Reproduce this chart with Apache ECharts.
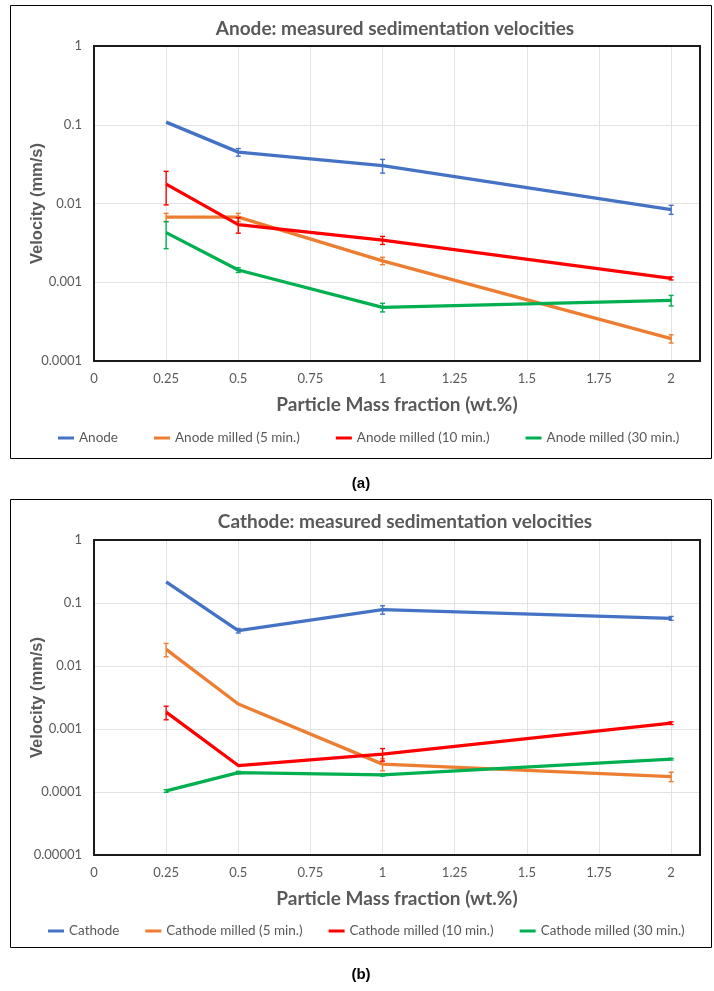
<!DOCTYPE html>
<html><head><meta charset="utf-8">
<script src="https://cdn.jsdelivr.net/npm/echarts@6/dist/echarts.min.js"></script>
<style>html,body{margin:0;padding:0;background:#fff}#c{width:714px;height:991px}</style>
</head><body><div id="c"></div>
<script>
// ---- data ----
const xValues = [0.25, 0.5, 1, 2];
const xTickLabels = ['0','0.25','0.5','0.75','1','1.25','1.5','1.75','2'];
const yTickLabelsA = ['0.0001','0.001','0.01','0.1','1'];
const yTickLabelsB = ['0.00001','0.0001','0.001','0.01','0.1','1'];

const anodeNames = ['Anode','Anode milled (5 min.)','Anode milled (10 min.)','Anode milled (30 min.)'];
const cathodeNames = ['Cathode','Cathode milled (5 min.)','Cathode milled (10 min.)','Cathode milled (30 min.)'];
const seriesColors = ['#4472C4','#ED7D31','#FF0000','#00B050'];

const anode       = [0.108, 0.0449, 0.0303, 0.00838];
const anodeErr    = [0, 0.005, 0.006, 0.0011];
const anode5      = [0.0067, 0.0067, 0.00187, 0.000192];
const anode5Err   = [0.0008, 0.0008, 0.0002, 0.000023];
const anode10     = [0.0176, 0.0054, 0.00342, 0.00112];
const anode10Err  = [0.008, 0.0012, 0.0004, 0.00005];
const anode30     = [0.00427, 0.00143, 0.00048, 0.00059];
const anode30Err  = [0.0016, 0.0001, 0.00006, 0.00009];

const cathode      = [0.216, 0.0364, 0.0785, 0.0571];
const cathodeErr   = [0, 0.003, 0.012, 0.004];
const cathode5     = [0.0184, 0.00249, 0.000277, 0.000176];
const cathode5Err  = [0.0044, 0, 0.00006, 0.00003];
const cathode10    = [0.00185, 0.000263, 0.000399, 0.00124];
const cathode10Err = [0.00045, 0, 0.00009, 0.00006];
const cathode30    = [0.000104, 0.000203, 0.000187, 0.000332];
const cathode30Err = [0.000005, 0.00001, 0.000008, 0.00001];

// ---- build ----
const CAL = 'Lato, "Liberation Sans", sans-serif';
const ARI = '"Liberation Sans", Arial, sans-serif';
const GREY = '#595959';

function lineSeries(name, vals, color, gi) {
  return {type:'line', name, xAxisIndex:gi, yAxisIndex:gi,
    data: xValues.map((x,i)=>[x, vals[i]]),
    showSymbol:false, symbol:'none', lineStyle:{width:3.3,color:color}, itemStyle:{color:color}, z:2};
}
function errSeries(vals, errs, color, gi) {
  return {type:'custom', xAxisIndex:gi, yAxisIndex:gi, silent:true, z:3,
    data: xValues.map((x,i)=>[x, vals[i], errs[i]]),
    encode:{x:0, y:1},
    renderItem:function(p, api){
      const x = api.value(0), y = api.value(1), e = api.value(2);
      if (!e) return null;
      const t = api.coord([x, y + e]), b = api.coord([x, y - e]);
      const hw = 2.5, st = {stroke:color, lineWidth:1.4};
      return {type:'group', children:[
        {type:'line', shape:{x1:t[0],y1:t[1],x2:b[0],y2:b[1]}, style:st},
        {type:'line', shape:{x1:t[0]-hw,y1:t[1],x2:t[0]+hw,y2:t[1]}, style:st},
        {type:'line', shape:{x1:b[0]-hw,y1:b[1],x2:b[0]+hw,y2:b[1]}, style:st}
      ]};
    }};
}
function fmtY(v){ return String(Number(Number(v).toPrecision(3))); }
function fmtX(v){ return (Math.abs(v*4 - Math.round(v*4)) < 1e-6) ? String(Number(v.toFixed(2))) : ''; }

function xAxis(gi){
  return {type:'value', gridIndex:gi, min:0, max:2.1, interval:0.25,
    name:'Particle Mass fraction (wt.%)', nameLocation:'middle', nameGap:34, nameMoveOverlap:false,
    nameTextStyle:{fontFamily:CAL, fontWeight:'bold', fontSize:19, color:GREY},
    axisLine:{show:false}, axisTick:{show:false},
    axisLabel:{formatter:fmtX, color:GREY, fontFamily:CAL, fontSize:13, margin:11},
    splitLine:{show:true, lineStyle:{color:'#e3e3e3', width:1}}};
}
function yAxis(gi, min){
  return {type:'log', logBase:10, gridIndex:gi, min:min, max:1,
    name:'Velocity (mm/s)', nameLocation:'middle', nameGap:48, nameMoveOverlap:false,
    nameTextStyle:{fontFamily:ARI, fontWeight:'bold', fontSize:16.5, color:GREY},
    axisLine:{show:false}, axisTick:{show:false},
    axisLabel:{formatter:fmtY, color:GREY, fontFamily:CAL, fontSize:13, margin:12},
    minorTick:{show:false}, minorSplitLine:{show:false},
    splitLine:{show:true, lineStyle:{color:'#e3e3e3', width:1}}};
}

const series = [];
const aVals = [anode, anode5, anode10, anode30];
const aErrs = [anodeErr, anode5Err, anode10Err, anode30Err];
const cVals = [cathode, cathode5, cathode10, cathode30];
const cErrs = [cathodeErr, cathode5Err, cathode10Err, cathode30Err];
for (let i=0;i<4;i++){ series.push(lineSeries(anodeNames[i], aVals[i], seriesColors[i], 0)); }
for (let i=0;i<4;i++){ series.push(errSeries(aVals[i], aErrs[i], seriesColors[i], 0)); }
for (let i=0;i<4;i++){ series.push(lineSeries(cathodeNames[i], cVals[i], seriesColors[i], 1)); }
for (let i=0;i<4;i++){ series.push(errSeries(cVals[i], cErrs[i], seriesColors[i], 1)); }

function legend(names, left, top, gap){
  return {data:names, left:left, top:top, itemGap:gap, itemWidth:16, itemHeight:3, icon:'rect',
    textStyle:{color:GREY, fontFamily:CAL, fontSize:13.5}, selectedMode:false};
}
function txt(s, x, y, font, size, color){
  return {type:'text', x:x, y:y, style:{text:s, font:'bold '+size+'px '+font, fill:color, align:'center', verticalAlign:'middle'}};
}
function border(x, y, w, h, lw, col){
  return {type:'rect', z:100, shape:{x:x, y:y, width:w, height:h}, style:{fill:'none', stroke:col, lineWidth:lw}, silent:true};
}

const option = {
  animation:false,
  backgroundColor:'#fff',
  grid:[
    {left:94, top:46, width:606, height:315, containLabel:false},
    {left:94, top:540, width:606, height:315, containLabel:false}
  ],
  xAxis:[xAxis(0), xAxis(1)],
  yAxis:[yAxis(0, 0.0001), yAxis(1, 0.00001)],
  legend:[legend(anodeNames, 53, 426, 36), legend(cathodeNames, 43, 919, 26)],
  graphic:[
    border(10.5, 5.5, 701, 453, 1, '#000'),
    border(10.5, 499.5, 701, 448, 1, '#000'),
    border(94, 46, 606, 315, 2, '#1a1a1a'),
    border(94, 540, 606, 315, 2, '#1a1a1a'),
    txt('Anode: measured sedimentation velocities', 395, 29, 'Lato, "Liberation Sans", sans-serif', 19, GREY),
    txt('Cathode: measured sedimentation velocities', 405, 522, 'Lato, "Liberation Sans", sans-serif', 19, GREY),
    txt('(a)', 361, 484, '"Liberation Sans", Arial, sans-serif', 15, '#000'),
    txt('(b)', 361, 975, '"Liberation Sans", Arial, sans-serif', 15, '#000')
  ],
  series:series
};
const chart = echarts.init(document.getElementById('c'), null, {renderer:'canvas'});
chart.setOption(option);
</script></body></html>
